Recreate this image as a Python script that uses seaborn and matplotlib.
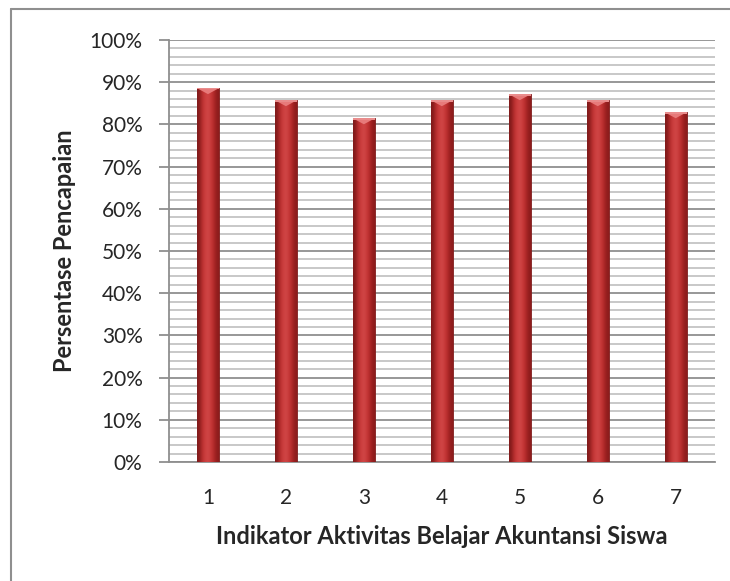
"""Bar chart: persentase pencapaian per indikator aktivitas belajar akuntansi."""
import matplotlib
matplotlib.use("Agg")
import matplotlib.pyplot as plt
import numpy as np
import pandas as pd
import seaborn as sns
from matplotlib.lines import Line2D
from matplotlib.patches import Polygon
from matplotlib.ticker import MultipleLocator, PercentFormatter

indikator = ["1", "2", "3", "4", "5", "6", "7"]
persentase = [0.8857, 0.8571, 0.8143, 0.8571, 0.8714, 0.8571, 0.8286]

sns.set_style("white")
plt.rcParams["font.family"] = ["Lato", "DejaVu Sans"]

df = pd.DataFrame({"indikator": indikator, "persentase": persentase})

fig = plt.figure(figsize=(7.30, 5.81), dpi=100)
ax = fig.add_axes([0.2315, 0.2048, 0.7475, 0.7264])

sns.barplot(data=df, x="indikator", y="persentase", color="#c23b3b",
            width=0.28, edgecolor="#7e1a1a", linewidth=0.6, ax=ax, zorder=3)

# cylinder-like shading + light bevel cap on each bar
grad = np.array([
    [0.50, 0.10, 0.10], [0.70, 0.17, 0.17], [0.80, 0.24, 0.24],
    [0.82, 0.28, 0.28], [0.78, 0.22, 0.22], [0.68, 0.15, 0.15],
    [0.55, 0.11, 0.11],
])[None, :, :]
for bar in ax.patches:
    x0, y0 = bar.get_x(), bar.get_y()
    w, h = bar.get_width(), bar.get_height()
    im = ax.imshow(grad, extent=(x0, x0 + w, y0, y0 + h), aspect="auto",
                   interpolation="bicubic", zorder=3.5)
    im.set_clip_path(bar)
    cap = 0.014
    ax.add_patch(Polygon([(x0, y0 + h), (x0 + w, y0 + h), (x0 + w / 2, y0 + h - cap)],
                         closed=True, facecolor="#e77a7a", edgecolor="none", zorder=4))
    ax.add_patch(Polygon([(x0, y0 + h), (x0 + w, y0 + h), (x0 + w, y0 + h - 0.003), (x0, y0 + h - 0.003)],
                         closed=True, facecolor="#e98c8c", edgecolor="none", zorder=4))

ax.set_xlim(-0.5, len(indikator) - 0.5)
ax.set_ylim(0, 1.0)
ax.yaxis.set_major_locator(MultipleLocator(0.1))
ax.yaxis.set_minor_locator(MultipleLocator(0.02))
ax.yaxis.set_major_formatter(PercentFormatter(1.0, decimals=0))
ax.set_axisbelow(True)
ax.grid(which="minor", axis="y", color="#c4c4c4", linewidth=1.3, zorder=0)
ax.grid(which="major", axis="y", color="#8f8f8f", linewidth=1.3, zorder=0)

for side in ("top", "right"):
    ax.spines[side].set_visible(False)
for side in ("left", "bottom"):
    ax.spines[side].set_color("#8f8f8f")
    ax.spines[side].set_linewidth(1.3)

ax.tick_params(axis="y", which="major", length=7, width=1.3, color="#8f8f8f",
               labelsize=15, pad=12, left=True)
ax.tick_params(axis="y", which="minor", length=0)
ax.tick_params(axis="x", length=0, labelsize=15, pad=19)

ax.set_xlabel("Indikator Aktivitas Belajar Akuntansi Siswa", fontsize=17,
              fontweight="bold", labelpad=12)
ax.set_ylabel("Persentase Pencapaian", fontsize=17, fontweight="bold", labelpad=10)

# outer chart-area frame (only top and left edges visible)
fig.add_artist(Line2D([11 / 730, 11 / 730], [0, 1 - 9 / 581], color="#8f8f8f", lw=1.5))
fig.add_artist(Line2D([11 / 730, 1], [1 - 9 / 581, 1 - 9 / 581], color="#8f8f8f", lw=1.5))

fig.savefig("out.png", dpi=100, facecolor="white")
plt.close(fig)
